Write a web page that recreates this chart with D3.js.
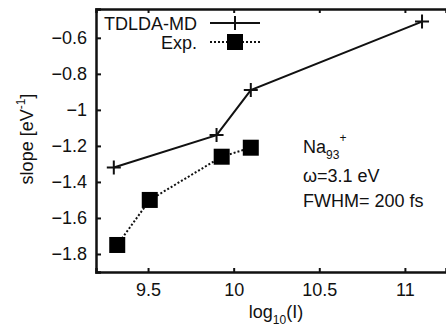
<!DOCTYPE html>
<html>
<head>
<meta charset="utf-8">
<script src="https://d3js.org/d3.v7.min.js"></script>
<style>
  body { margin: 0; background: #fff; }
  text { font-family: "Liberation Sans", Arial, sans-serif; fill: #111; }
</style>
</head>
<body>
<div id="chart"></div>
<script>
// data
var tdldaX = [9.3, 9.9, 10.1, 11.1];
var tdldaY = [-1.32, -1.14, -0.89, -0.51];
var expX = [9.32, 9.51, 9.93, 10.1];
var expY = [-1.75, -1.5, -1.26, -1.21];
var xTicks = [9.5, 10, 10.5, 11];
var yTicks = [-1.8, -1.6, -1.4, -1.2, -1, -0.8, -0.6];

var W = 446, H = 329;
var pLeft = 96, pRight = 446, pTop = 9, pBottom = 272;

var svg = d3.select("#chart").append("svg").attr("width", W).attr("height", H);

var x = d3.scaleLinear().domain([9.196, 11.24]).range([pLeft, pRight]);
var y = d3.scaleLinear().domain([-1.9, -0.44]).range([pBottom, pTop]);

// axes, ticks pointing inward
var fs = 18;
var xAx = svg.append("g").attr("transform", "translate(0," + pBottom + ")")
  .call(d3.axisBottom(x).tickValues(xTicks).tickSize(-4).tickPadding(11).tickFormat(d3.format("")));
var xTop = svg.append("g").attr("transform", "translate(0," + pTop + ")")
  .call(d3.axisTop(x).tickValues(xTicks).tickSize(-4).tickFormat(""));
var yAx = svg.append("g").attr("transform", "translate(" + pLeft + ",0)")
  .call(d3.axisLeft(y).tickValues(yTicks).tickSize(-5).tickPadding(9).tickFormat(d3.format("")));

[xAx, xTop, yAx].forEach(function(g) {
  g.select(".domain").attr("stroke", "#111").attr("stroke-width", 2.5);
  g.selectAll(".tick line").attr("stroke", "#111").attr("stroke-width", 2);
  g.selectAll("text").style("font-size", fs + "px").attr("fill", "#111");
});

// axis titles
var yl = svg.append("text").attr("transform", "translate(33,139) rotate(-90)")
  .attr("text-anchor", "middle").style("font-size", fs + "px");
yl.append("tspan").text("slope [eV");
yl.append("tspan").attr("dy", -8).style("font-size", "12px").text("-1");
yl.append("tspan").attr("dy", 8).text("]");

var xl = svg.append("text").attr("x", 276).attr("y", 318)
  .attr("text-anchor", "middle").style("font-size", fs + "px");
xl.append("tspan").text("log");
xl.append("tspan").attr("dy", 6).style("font-size", "12px").text("10");
xl.append("tspan").attr("dy", -6).text("(I)");

// series
var line = d3.line().x(function(d) { return x(d[0]); }).y(function(d) { return y(d[1]); });
var tdlda = d3.zip(tdldaX, tdldaY);
var exp = d3.zip(expX, expY);

svg.append("path").datum(tdlda).attr("d", line)
  .attr("fill", "none").attr("stroke", "#111").attr("stroke-width", 2);
svg.append("path").datum(exp).attr("d", line)
  .attr("fill", "none").attr("stroke", "#111").attr("stroke-width", 2).attr("stroke-dasharray", "2,2");

function plus(g, cx, cy) {
  g.append("path").attr("d", "M" + (cx - 7) + "," + cy + "H" + (cx + 7) + "M" + cx + "," + (cy - 7) + "V" + (cy + 7))
    .attr("stroke", "#111").attr("stroke-width", 2);
}
tdlda.forEach(function(d) { plus(svg, x(d[0]), y(d[1])); });
svg.selectAll("rect.exp").data(exp).enter().append("rect").attr("class", "exp")
  .attr("x", function(d) { return x(d[0]) - 8; }).attr("y", function(d) { return y(d[1]) - 8; })
  .attr("width", 16).attr("height", 16).attr("fill", "#000");

// legend
svg.append("text").attr("x", 197).attr("y", 30).attr("text-anchor", "end").style("font-size", fs + "px").text("TDLDA-MD");
svg.append("line").attr("x1", 210).attr("x2", 260).attr("y1", 23).attr("y2", 23).attr("stroke", "#111").attr("stroke-width", 2);
plus(svg, 235, 23);
svg.append("text").attr("x", 197).attr("y", 49).attr("text-anchor", "end").style("font-size", fs + "px").text("Exp.");
svg.append("line").attr("x1", 210).attr("x2", 260).attr("y1", 42).attr("y2", 42).attr("stroke", "#111").attr("stroke-width", 2).attr("stroke-dasharray", "2,2");
svg.append("rect").attr("x", 227).attr("y", 34).attr("width", 16).attr("height", 16).attr("fill", "#000");

// annotation
var na = svg.append("text").attr("x", 303).attr("y", 153).style("font-size", fs + "px");
na.append("tspan").text("Na");
na.append("tspan").attr("dy", 6).style("font-size", "12px").text("93");
na.append("tspan").attr("dy", -17).attr("dx", 0).style("font-size", "12px").text("+");
svg.append("text").attr("x", 303).attr("y", 182).style("font-size", fs + "px").text("ω=3.1 eV");
svg.append("text").attr("x", 303).attr("y", 207).style("font-size", fs + "px").text("FWHM= 200 fs");
</script>
</body>
</html>
